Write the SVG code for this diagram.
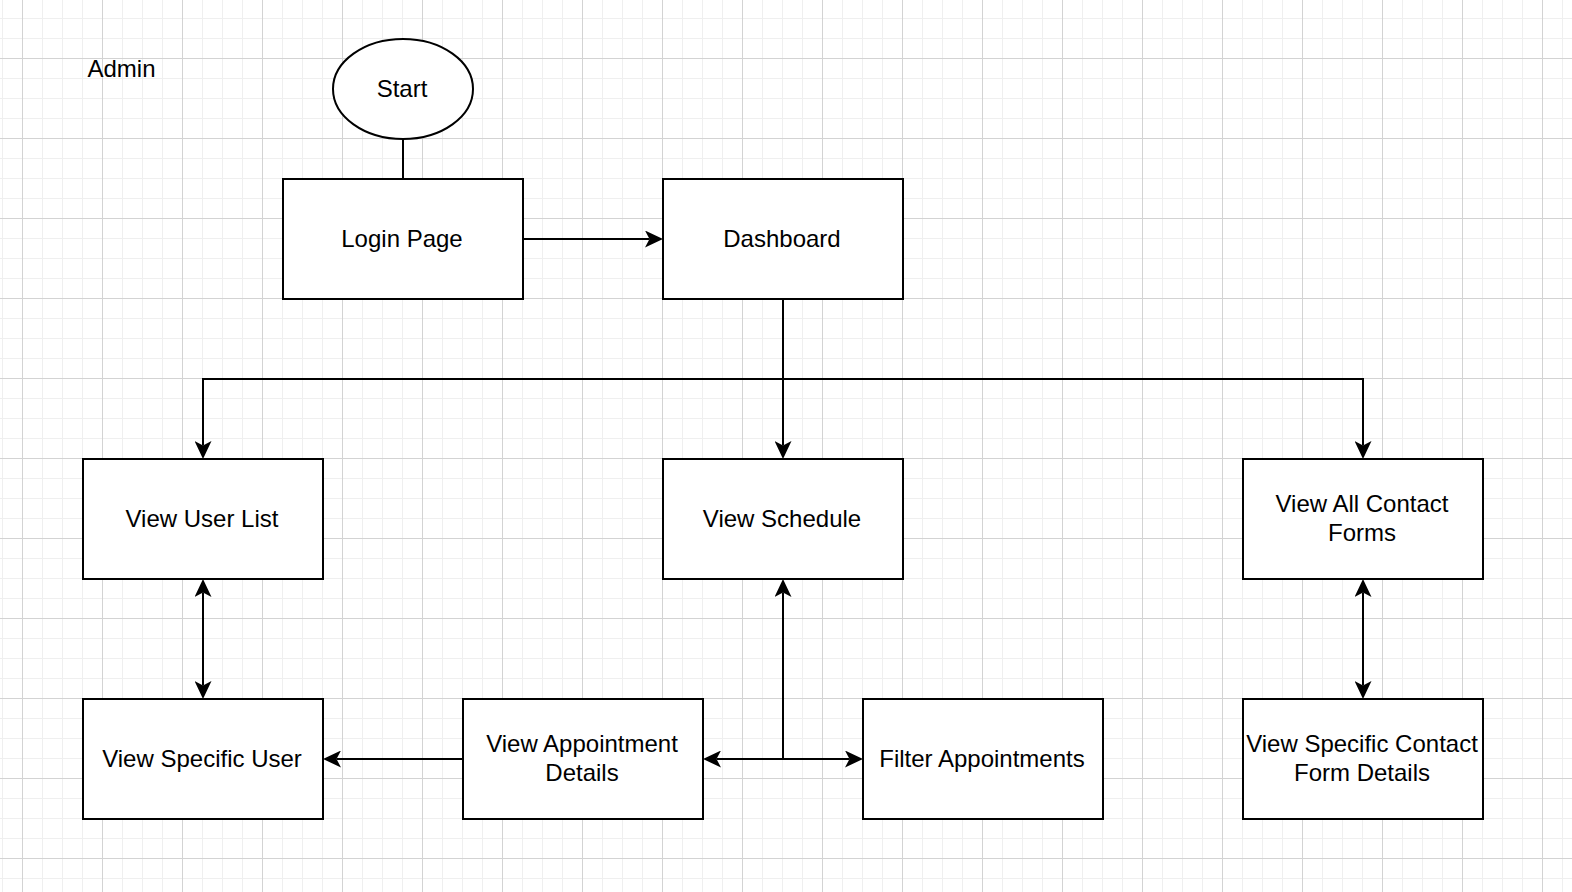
<svg xmlns="http://www.w3.org/2000/svg" width="1572" height="892" viewBox="0 0 1572 892">
  <defs>
    <!-- 20px minor / 80px major background grid -->
    <pattern id="grid" patternUnits="userSpaceOnUse" x="22" y="58" width="80" height="80">
      <rect width="80" height="80" fill="#ffffff"/>
      <path d="M20.5,0 V80 M40.5,0 V80 M60.5,0 V80 M0,20.5 H80 M0,40.5 H80 M0,60.5 H80" stroke="#efefef" stroke-width="1" fill="none"/>
      <path d="M0.5,0 V80 M0,0.5 H80" stroke="#d3d3d3" stroke-width="1" fill="none"/>
    </pattern>
    <marker id="arrow" viewBox="0 0 18 17" refX="4.5" refY="8.5" markerWidth="18" markerHeight="17" markerUnits="userSpaceOnUse" orient="auto-start-reverse">
      <path d="M18,8.5 L0,0 L4.5,8.5 L0,17 Z" fill="#000000"/>
    </marker>
  </defs>
  <style>
    .box { fill: #ffffff; stroke: #000000; stroke-width: 2; }
    .label { font-family: "Liberation Sans", Arial, Helvetica, sans-serif; font-size: 24px; fill: #000000; text-anchor: middle; }
    .edge { fill: none; stroke: #000000; stroke-width: 2; }
    .end { marker-end: url(#arrow); }
    .both { marker-start: url(#arrow); marker-end: url(#arrow); }
  </style>

  <rect x="0" y="0" width="1572" height="892" fill="url(#grid)"/>

  <!-- connectors -->
  <g id="connectors">
    <path class="edge" d="M403,139 V179"/>
    <path class="edge end" d="M523,239 H649.5"/>
    <path class="edge end" d="M783,299 V445.5"/>
    <path class="edge end" d="M783,379 H203 V445.5"/>
    <path class="edge end" d="M783,379 H1363 V445.5"/>
    <path class="edge both" d="M203,592.5 V685.5"/>
    <path class="edge end" d="M463,759 H336.5"/>
    <path class="edge both" d="M716.5,759 H849.5"/>
    <path class="edge end" d="M783,759 V592.5"/>
    <path class="edge both" d="M1363,592.5 V685.5"/>
  </g>

  <g id="admin-label">
    <text class="label" x="121.5" y="77">Admin</text>
  </g>

  <g id="start">
    <ellipse class="box" cx="403" cy="89" rx="70" ry="50"/>
    <text class="label" x="402" y="96.5">Start</text>
  </g>

  <g id="login-page">
    <rect class="box" x="283" y="179" width="240" height="120"/>
    <text class="label" x="402" y="246.5">Login Page</text>
  </g>

  <g id="dashboard">
    <rect class="box" x="663" y="179" width="240" height="120"/>
    <text class="label" x="782" y="246.5">Dashboard</text>
  </g>

  <g id="view-user-list">
    <rect class="box" x="83" y="459" width="240" height="120"/>
    <text class="label" x="202" y="526.5">View User List</text>
  </g>

  <g id="view-schedule">
    <rect class="box" x="663" y="459" width="240" height="120"/>
    <text class="label" x="782" y="526.5">View Schedule</text>
  </g>

  <g id="view-all-contact-forms">
    <rect class="box" x="1243" y="459" width="240" height="120"/>
    <text class="label" x="1362" y="511.5">View All Contact</text>
    <text class="label" x="1362" y="540.5">Forms</text>
  </g>

  <g id="view-specific-user">
    <rect class="box" x="83" y="699" width="240" height="120"/>
    <text class="label" x="202" y="766.5">View Specific User</text>
  </g>

  <g id="view-appointment-details">
    <rect class="box" x="463" y="699" width="240" height="120"/>
    <text class="label" x="582" y="751.5">View Appointment</text>
    <text class="label" x="582" y="780.5">Details</text>
  </g>

  <g id="filter-appointments">
    <rect class="box" x="863" y="699" width="240" height="120"/>
    <text class="label" x="982" y="766.5">Filter Appointments</text>
  </g>

  <g id="view-specific-contact-form">
    <rect class="box" x="1243" y="699" width="240" height="120"/>
    <text class="label" x="1362" y="751.5">View Specific Contact</text>
    <text class="label" x="1362" y="780.5">Form Details</text>
  </g>
</svg>
